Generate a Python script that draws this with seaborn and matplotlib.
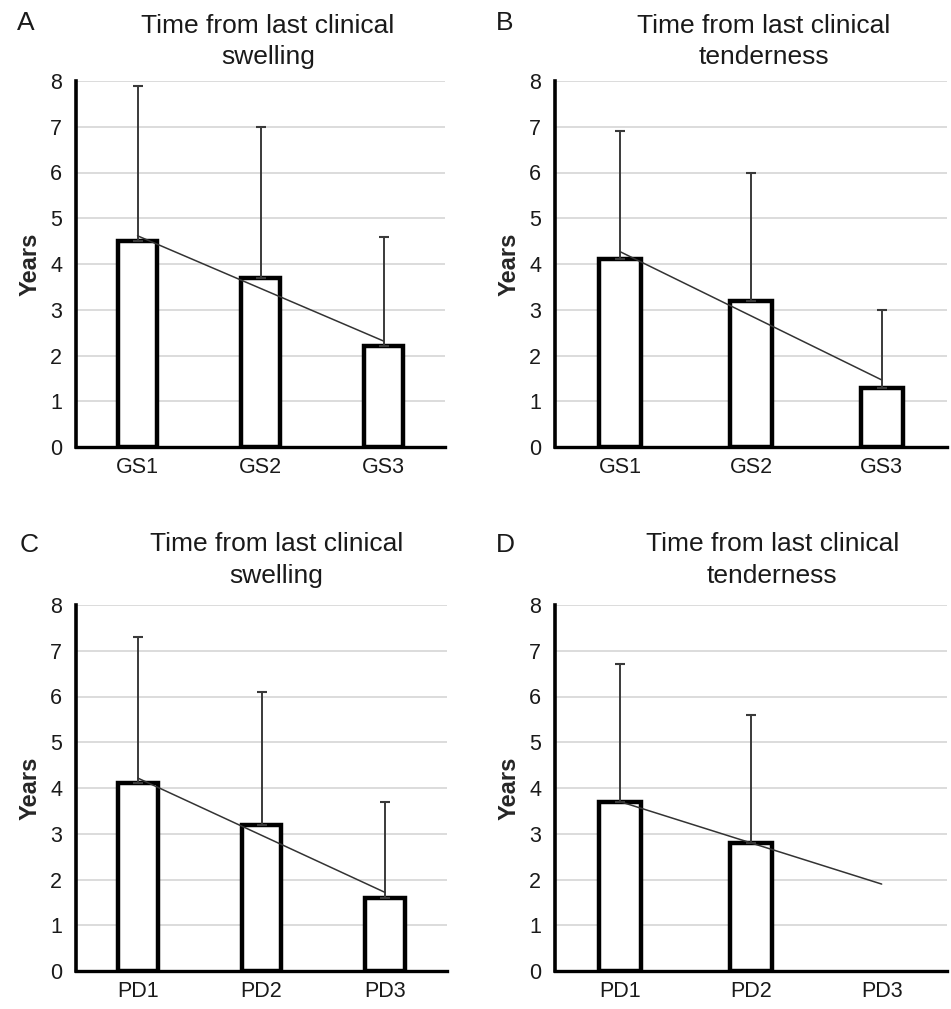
import numpy as np
import pandas as pd
import seaborn as sns
import matplotlib.pyplot as plt

# Categories
gs_groups = ["GS1", "GS2", "GS3"]
pd_groups = ["PD1", "PD2", "PD3"]

# Mean time (years) and upper SD
swelling_gs = [4.5, 3.7, 2.2]
swelling_gs_sd = [3.4, 3.3, 2.4]
tenderness_gs = [4.1, 3.2, 1.3]
tenderness_gs_sd = [2.8, 2.8, 1.7]
swelling_pd = [4.1, 3.2, 1.6]
swelling_pd_sd = [3.2, 2.9, 2.1]
tenderness_pd = [3.7, 2.8, np.nan]
tenderness_pd_sd = [3.0, 2.8, np.nan]

panel_letters = ["A", "B", "C", "D"]
titles = ["Time from last clinical\nswelling", "Time from last clinical\ntenderness",
          "Time from last clinical\nswelling", "Time from last clinical\ntenderness"]

sns.set_style("white")
plt.rcParams['font.family'] = ['Liberation Sans', 'DejaVu Sans']

W, H = 951, 1009
fig = plt.figure(figsize=(W / 100, H / 100), dpi=100)

# axes boxes in pixels: left, right, top, bottom
boxes = [(76, 445, 81, 447), (555, 947, 81, 447),
         (76, 447, 605, 971), (555, 947, 605, 971)]
title_x = [0.52, 0.533, 0.54, 0.554]
title_pad = [12, 12, 16, 16]
letter_pos = [(17, 30), (496, 30), (20, 552), (496, 552)]

panels = [(gs_groups, swelling_gs, swelling_gs_sd),
          (gs_groups, tenderness_gs, tenderness_gs_sd),
          (pd_groups, swelling_pd, swelling_pd_sd),
          (pd_groups, tenderness_pd, tenderness_pd_sd)]


# Draw one panel: bars, upper error bars and linear trend line
def draw_panel(ax, groups, values, sd, title, tx, tpad):
    df = pd.DataFrame({"group": groups, "years": values})
    sns.barplot(data=df, x="group", y="years", order=groups, width=0.32,
                color="white", saturation=1, edgecolor="black", linewidth=3.2,
                errorbar=None, ax=ax, zorder=2)
    pos = np.arange(len(groups))
    vals = np.array(values, dtype=float)
    sds = np.array(sd, dtype=float)
    ax.errorbar(pos, vals, yerr=[np.zeros_like(sds), sds], fmt="none",
                ecolor="#3a3a3a", elinewidth=1.4, capsize=3.5, capthick=1.5, zorder=3)
    # linear trendline fitted to the available means
    ok = ~np.isnan(vals)
    slope, icpt = np.polyfit(pos[ok], vals[ok], 1)
    ax.plot(pos, slope * pos + icpt, color="#333333", linewidth=1.1, zorder=4)

    ax.set_xlim(-0.5, len(groups) - 0.5)
    ax.set_ylim(0, 8)
    ax.set_yticks(range(0, 9))
    ax.set_axisbelow(True)
    ax.yaxis.grid(True, color="#d6d6d6", linewidth=1.2)
    ax.xaxis.grid(False)
    for s in ["top", "right"]:
        ax.spines[s].set_visible(False)
    ax.spines["left"].set_color("black")
    ax.spines["left"].set_linewidth(2.6)
    ax.spines["bottom"].set_color("black")
    ax.spines["bottom"].set_linewidth(2.4)
    ax.tick_params(axis="both", length=0, labelsize=15.5, colors="#1a1a1a")
    ax.tick_params(axis="y", pad=10)
    ax.tick_params(axis="x", pad=7)
    ax.set_xlabel("")
    ax.set_ylabel("Years", fontsize=17, fontweight="bold", labelpad=6)
    ax.set_title(title, fontsize=19, x=tx, pad=tpad, linespacing=1.4, color="#1a1a1a")


for i, (groups, vals, sd) in enumerate(panels):
    l, r, t, b = boxes[i]
    ax = fig.add_axes([l / W, (H - b) / H, (r - l) / W, (b - t) / H])
    draw_panel(ax, groups, vals, sd, titles[i], title_x[i], title_pad[i])
    lx, ly = letter_pos[i]
    fig.text(lx / W, 1 - ly / H, panel_letters[i], fontsize=19, va="baseline",
             ha="left", color="#1a1a1a")

plt.savefig("out.png", dpi=100)
